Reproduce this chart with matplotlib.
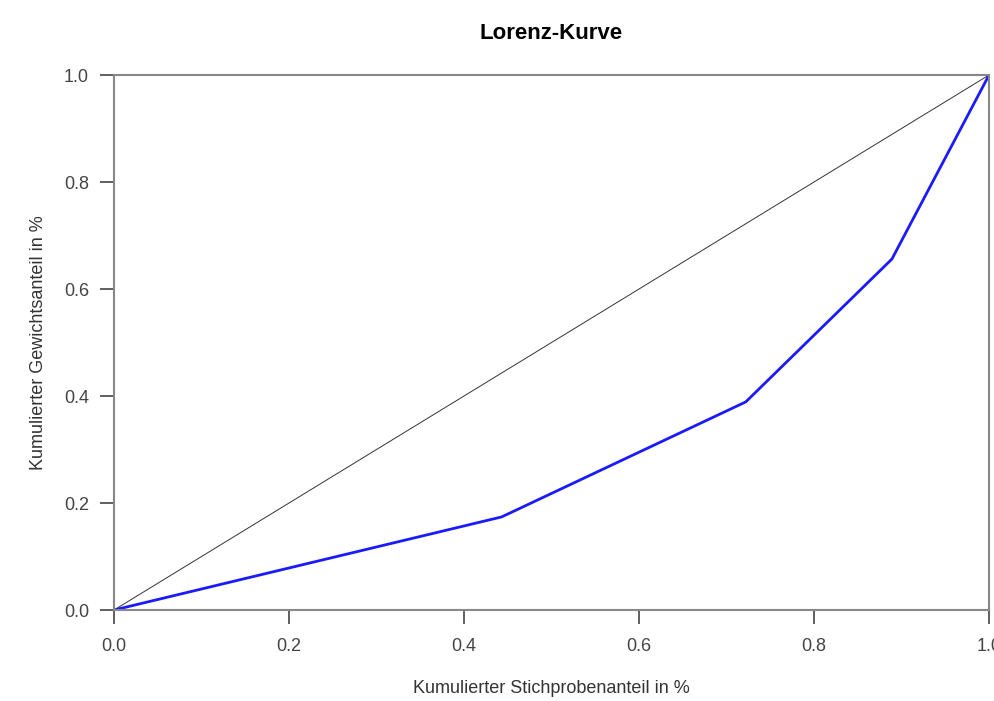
import matplotlib.pyplot as plt

plt.rcParams['font.family'] = ['Liberation Sans', 'DejaVu Sans']

# cumulative shares
stich_anteil = [0.0, 0.443, 0.722, 0.889, 1.0]
gewicht_anteil = [0.0, 0.174, 0.389, 0.656, 1.0]
ticks = [0.0, 0.2, 0.4, 0.6, 0.8, 1.0]

fig = plt.figure(figsize=(9.95, 7.01), dpi=100)
ax = fig.add_axes([0.1146, 0.1298, 0.8794, 0.7632])

# line of equality
ax.plot([0, 1], [0, 1], color='#333333', linewidth=0.7)
ax.plot(stich_anteil, gewicht_anteil, color='#1a1aff', linewidth=2)

ax.set_xlim(0, 1)
ax.set_ylim(0, 1)
ax.set_xticks(ticks)
ax.set_yticks(ticks)
ax.set_xticklabels([f'{t:.1f}' for t in ticks])
ax.set_yticklabels([f'{t:.1f}' for t in ticks])

for s in ax.spines.values():
    s.set_color('#888888')
    s.set_linewidth(1.5)

ax.tick_params(axis='both', length=10, width=1.2, color='#444444',
               labelsize=13, labelcolor='#444444')
ax.tick_params(axis='x', pad=10)
ax.tick_params(axis='y', pad=8)

ax.set_title('Lorenz-Kurve', fontsize=16, fontweight='bold', pad=26)
ax.set_xlabel('Kumulierter Stichprobenanteil in %', fontsize=13,
              color='#333333', labelpad=18)
ax.set_ylabel('Kumulierter Gewichtsanteil in %', fontsize=13,
              color='#333333', labelpad=12)

fig.savefig('out.png', dpi=100)
